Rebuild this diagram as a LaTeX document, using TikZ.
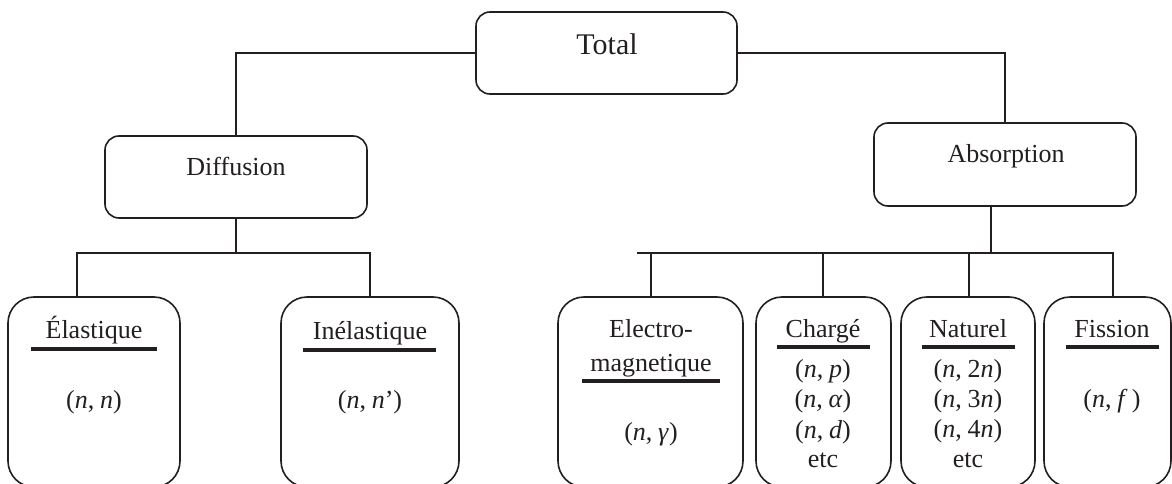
\documentclass[tikz,border=0pt]{standalone}
\usepackage{fontspec}
\setmainfont{Liberation Serif}
\definecolor{ink}{RGB}{35,31,32}
\newcommand{\vi}[1]{\textit{#1}}
\tikzset{
  box/.style={draw=ink, line width=1.6pt, rounded corners=14pt, rectangle, inner sep=0pt},
  leaf/.style={draw=ink, line width=1.6pt, rounded corners=26pt, rectangle, inner sep=0pt, minimum height=190pt},
  wire/.style={draw=ink, line width=1.8pt},
  uline/.style={draw=ink, line width=4pt},
  lbl/.style={anchor=base, inner sep=0pt, text=ink, font=\fontsize{26}{30}\selectfont},
  big/.style={anchor=base, inner sep=0pt, text=ink, font=\fontsize{30}{34}\selectfont},
}
\begin{document}
\begin{tikzpicture}[x=1pt,y=-1pt]
\useasboundingbox (0,0) rectangle (1172,484);
\clip (0,0) rectangle (1172,484);

% upper boxes
\node[box, minimum width=261pt, minimum height=82pt] (total) at (606.5,53) {};
\node[big] (totalt) at (607,55) {Total};
\node[box, minimum width=262pt, minimum height=82pt] (diff) at (236,177) {};
\node[lbl] (difft) at (236,175) {Diffusion};
\node[box, minimum width=262pt, minimum height=83pt] (abs) at (1005,164.5) {};
\node[lbl] (abst) at (1006,162) {Absorption};

% leaves
\node[leaf, minimum width=172pt] (ela) at (94,392) {};
\node[leaf, minimum width=178pt] (inel) at (370,392) {};
\node[leaf, minimum width=185pt] (em) at (650.5,392) {};
\node[leaf, minimum width=135pt] (ch) at (823.5,392) {};
\node[leaf, minimum width=134pt] (nat) at (968,392) {};
\node[leaf, minimum width=127pt] (fis) at (1107.5,392) {};

% leaf texts
\node[lbl] (elat) at (94,338) {Élastique};
\draw[uline] (31,349) -- (157,349);
\node[lbl] (elam) at (94,408) {(\vi{n},\:\vi{n})};

\node[lbl] (inelt) at (370,339) {Inélastique};
\draw[uline] (303,350) -- (436,350);
\node[lbl] (inelm) at (370,408) {(\vi{n},\:\vi{n}’)};

\node[lbl] (emt1) at (651,337) {Electro-};
\node[lbl] (emt2) at (651,371) {magnetique};
\draw[uline] (582,381) -- (720,381);
\node[lbl] (emm) at (651,440) {(\vi{n},\:\vi{γ})};

\node[lbl] (cht) at (823,337) {Chargé};
\draw[uline] (777,347) -- (870,347);
\node[lbl] (chm1) at (823,377) {(\vi{n},\:\vi{p})};
\node[lbl] (chm2) at (823,407) {(\vi{n},\:\vi{α})};
\node[lbl] (chm3) at (823,438) {(\vi{n},\:\vi{d})};
\node[lbl] (chm4) at (823,467) {etc};

\node[lbl] (natt) at (968,337) {Naturel};
\draw[uline] (922,347) -- (1015,347);
\node[lbl] (natm1) at (968,377) {(\vi{n},\:2\vi{n})};
\node[lbl] (natm2) at (968,407) {(\vi{n},\:3\vi{n})};
\node[lbl] (natm3) at (968,437) {(\vi{n},\:4\vi{n})};
\node[lbl] (natm4) at (968,467) {etc};

\node[lbl] (fist) at (1112,337) {Fission};
\draw[uline] (1066,347) -- (1159,347);
\node[lbl] (fism) at (1112,407) {(\vi{n},\:\vi{f}\,)};

% connectors
\draw[wire] (total.west) -| (diff.north);
\draw[wire] (total.east) -| (abs.north);

\coordinate (dj) at (236,253);
\coordinate (dl) at (77,253);
\coordinate (dr) at (370,253);
\draw[wire] (diff.south) -- (dj);
\draw[wire] (dl |- ela.north) -- (dl) -- (dr) -- (inel.north);

\coordinate (aj) at (991,253);
\coordinate (al) at (637,253);
\coordinate (ar) at (1113,253);
\coordinate (b1) at (651,253);
\coordinate (b2) at (823,253);
\coordinate (b3) at (969,253);
\draw[wire] (aj |- abs.south) -- (aj);
\draw[wire] (al) -- (ar) -- (ar |- fis.north);
\draw[wire] (b1) -- (b1 |- em.north);
\draw[wire] (b2) -- (b2 |- ch.north);
\draw[wire] (b3) -- (b3 |- nat.north);
\end{tikzpicture}
\end{document}
